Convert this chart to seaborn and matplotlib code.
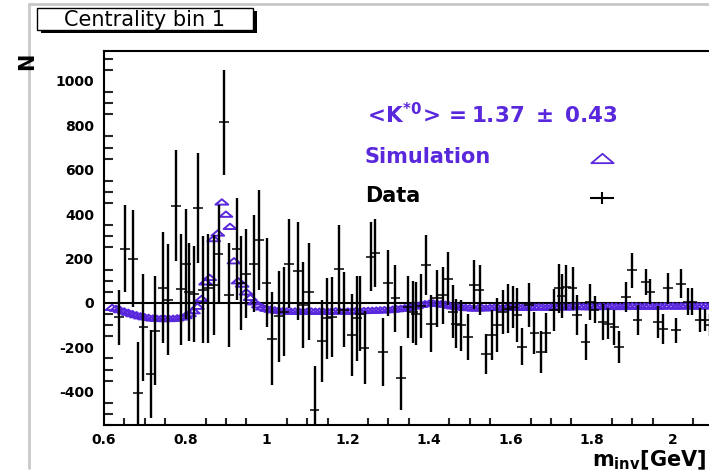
import numpy as np
import matplotlib
matplotlib.use("Agg")
import matplotlib.pyplot as plt
import seaborn as sns
from matplotlib.path import Path
from matplotlib.patches import Rectangle
from matplotlib.lines import Line2D
from matplotlib.ticker import MultipleLocator, FuncFormatter

# ---------------- data ----------------
data_x = [0.637, 0.652, 0.671, 0.683, 0.697, 0.716, 0.725, 0.744, 0.757, 0.777,
          0.789, 0.802, 0.810, 0.821, 0.832, 0.843, 0.855, 0.871, 0.882, 0.896,
          0.907, 0.927, 0.937, 0.949, 0.970, 0.981, 1.000, 1.013, 1.031, 1.044,
          1.056, 1.077, 1.089, 1.105, 1.118, 1.136, 1.148, 1.161, 1.179, 1.191,
          1.210, 1.222, 1.230, 1.241, 1.257, 1.268, 1.286, 1.298, 1.317, 1.331,
          1.347, 1.360, 1.368, 1.380, 1.392, 1.405, 1.419, 1.433, 1.446, 1.458,
          1.466, 1.478, 1.495, 1.511, 1.524, 1.540, 1.555, 1.567, 1.581, 1.593,
          1.606, 1.616, 1.628, 1.645, 1.659, 1.675, 1.688, 1.708, 1.720, 1.727,
          1.737, 1.753, 1.764, 1.785, 1.796, 1.807, 1.827, 1.840, 1.856, 1.868,
          1.884, 1.900, 1.913, 1.933, 1.944, 1.962, 1.975, 1.988, 2.007, 2.019,
          2.036, 2.048, 2.066, 2.078, 2.090]
data_y = [-65, 245, 200, -405, -110, -320, -125, 68, 15, 437,
          62, 177, 50, 40, 426, 60, 65, 80, 222, 814,
          35, 242, 90, 132, 177, 283, 92, -161, -60, -40,
          177, 143, -10, 50, -484, -171, -70, -63, 152, -30,
          -146, -70, -48, -201, 209, 225, -221, 90, 20, -338,
          -20, -40, -48, -14, 170, -93, 20, 35, 110, -40,
          -93, -100, -153, 83, 57, -228, -146, -100, -40, -26,
          -20, -55, -198, -10, -134, -221, -134, -33, 65, 30,
          70, 65, -56, -176, 5, -30, -86, -93, -110, -198,
          27, 147, -78, 95, 50, -86, -116, 65, -123, 87,
          5, 5, -78, -78, -100]
data_err = [125, 195, 220, 230, 240, 200, 245, 250, 250, 250,
            250, 248, 220, 218, 248, 240, 245, 225, 220, 237,
            233, 229, 210, 200, 220, 225, 200, 210, 206, 200,
            200, 220, 195, 218, 200, 184, 184, 180, 200, 170,
            184, 190, 170, 165, 154, 154, 154, 150, 150, 146,
            140, 140, 142, 146, 135, 128, 130, 128, 120, 120,
            110, 115, 105, 110, 112, 90, 112, 120, 100, 110,
            95, 120, 83, 100, 95, 94, 90, 95, 112, 100,
            100, 98, 90, 83, 80, 60, 80, 71, 80, 71,
            68, 79, 68, 60, 56, 71, 68, 71, 56, 64,
            60, 60, 53, 49, 50]
data_xerr = 0.012

sim_x = np.round(np.arange(0.62, 2.1001, 0.01), 3)
sim_y = [-20, -24, -30, -36, -42, -48, -53, -58, -62, -65,
         -68, -69, -70, -70, -70, -69, -67, -63, -57, -48,
         -35, -15, 20, 95, 115, 290, 315, 455, 400, 345,
         190, 100, 85, 50, 25, 5, -8, -18, -24, -28,
         -31, -33, -35, -36,
         -37, -36, -37, -38, -37, -36, -37, -37, -38, -37,
         -36, -35, -36, -37, -36, -35, -34, -35, -34, -33,
         -33, -32, -31, -30, -30,
         -28, -26, -24, -21, -18, -14, -10, -6, -3, -1,
         0, -1, -3, -6, -10, -13, -16, -18, -20, -21,
         -23, -22, -21, -22, -20, -19, -20, -21, -20, -19,
         -18, -18, -19, -20, -19, -18, -17, -18, -19, -18,
         -17, -16, -17, -18, -17, -16, -15, -16, -17, -16,
         -16, -15, -16, -15, -14, -15, -16, -15, -14, -13,
         -14, -15, -14, -13, -14, -15, -14, -13, -12, -13,
         -14, -13, -12, -13, -14, -13, -12, -12, -13, -12]

x_ticks = [0.6, 0.8, 1.0, 1.2, 1.4, 1.6, 1.8, 2.0]
y_ticks = [-400, -200, 0, 200, 400, 600, 800, 1000]

title_text = "Centrality bin 1"
result_text = r"$\mathbf{<\!K^{*0}\!>=1.37\ \pm\ 0.43}$"
sim_label = "Simulation"
data_label = "Data"
x_title = r"$\mathbf{m}_{\mathbf{inv}}\mathbf{[GeV]}$"
y_title = "N"

BLUE = "#5a28dc"

# ---------------- style ----------------
sns.set_theme(style="white")
plt.rcParams["font.family"] = ["DejaVu Sans"]
plt.rcParams["mathtext.fontset"] = "dejavusans"

W, H = 709, 473
fig = plt.figure(figsize=(W / 100, H / 100), dpi=100)
fig.patch.set_facecolor("white")

def fx(px):
    return px / W

def fy(py):
    return 1 - py / H

ax = fig.add_axes([fx(104), fy(425), 609.6 / W, 374 / H])
ax.set_facecolor("white")

# wide (flattened) triangle & plus markers
tri = Path([(-1.0, -0.42), (1.0, -0.42), (0.0, 0.42), (-1.0, -0.42)],
           [Path.MOVETO, Path.LINETO, Path.LINETO, Path.CLOSEPOLY])
plus = Path([(-1.0, 0.0), (1.0, 0.0), (0.0, -0.5), (0.0, 0.5)],
            [Path.MOVETO, Path.LINETO, Path.MOVETO, Path.LINETO])

ax.axhline(0, color="black", lw=1.5, zorder=1)

sns.scatterplot(x=sim_x, y=sim_y, ax=ax, marker=tri, s=85, color=BLUE,
                facecolor="none", edgecolor=BLUE, linewidth=1.4, zorder=2,
                legend=False)

ax.errorbar(data_x, data_y, yerr=data_err, fmt="none", ecolor="black",
            elinewidth=1.7, capsize=0, zorder=3)
ax.errorbar(data_x, data_y, xerr=data_xerr, fmt="none", ecolor="black",
            elinewidth=1.1, capsize=0, zorder=3)

ax.set_xlim(0.6, 2.1)
ax.set_ylim(-550, 1135)
ax.set_xticks(x_ticks)
ax.set_yticks(y_ticks)
ax.xaxis.set_minor_locator(MultipleLocator(0.05))
ax.yaxis.set_minor_locator(MultipleLocator(50))
ax.xaxis.set_major_formatter(FuncFormatter(lambda v, p: f"{v:g}"))
ax.yaxis.set_major_formatter(FuncFormatter(lambda v, p: f"{v:g}"))
ax.tick_params(axis="y", which="major", direction="in", length=13.5, width=1.5,
               pad=7, labelsize=10, colors="black")
ax.tick_params(axis="y", which="minor", direction="in", length=6.5, width=1.5,
               left=True)
ax.tick_params(axis="x", which="major", direction="in", length=8.5, width=1.5,
               pad=6, labelsize=10, colors="black")
ax.tick_params(axis="x", which="minor", direction="in", length=5, width=1.5,
               bottom=True)
for lab in ax.get_xticklabels() + ax.get_yticklabels():
    lab.set_fontweight("bold")
for s in ax.spines.values():
    s.set_linewidth(1.5)
    s.set_color("black")
ax.set_xlabel("")
ax.set_ylabel("")

# canvas frame (grey)
fig.add_artist(Line2D([fx(29), fx(29)], [fy(4), fy(468)], color="#c8c8c8", lw=2))
fig.add_artist(Line2D([fx(29), 1.0], [fy(4), fy(4)], color="#c8c8c8", lw=2))

# title box with shadow
fig.add_artist(Rectangle((fx(41), fy(33)), fx(257) - fx(41), fy(11) - fy(33),
                         transform=fig.transFigure, facecolor="black",
                         edgecolor="black", lw=0))
fig.add_artist(Rectangle((fx(37), fy(30)), fx(253) - fx(37), fy(8) - fy(30),
                         transform=fig.transFigure, facecolor="white",
                         edgecolor="black", lw=1.0))
fig.text(fx(145), fy(19.5), title_text, ha="center", va="center",
         fontsize=15, color="black")

# axis titles
fig.text(fx(27), fy(61), y_title, rotation=90, ha="center", va="center",
         fontsize=15, fontweight="bold", color="black")
fig.text(fx(706), fy(466), x_title, ha="right", va="baseline",
         fontsize=15, color="black")

# annotation / legend
fig.text(fx(363), fy(115), result_text, ha="left", va="center",
         fontsize=15.5, color=BLUE)
fig.text(fx(365), fy(157), sim_label, ha="left", va="center",
         fontsize=15, fontweight="bold", color=BLUE)
fig.text(fx(365), fy(196), data_label, ha="left", va="center",
         fontsize=15, fontweight="bold", color="black")
ax.plot([fx(602)], [fy(158)], marker=tri, markersize=16, linestyle="none",
        markerfacecolor="none", markeredgecolor=BLUE, markeredgewidth=1.3,
        transform=fig.transFigure, clip_on=False)
ax.plot([fx(602)], [fy(198)], marker=plus, markersize=17, linestyle="none",
        markeredgecolor="black", markeredgewidth=1.5,
        transform=fig.transFigure, clip_on=False)

fig.savefig("out.png", dpi=100)
